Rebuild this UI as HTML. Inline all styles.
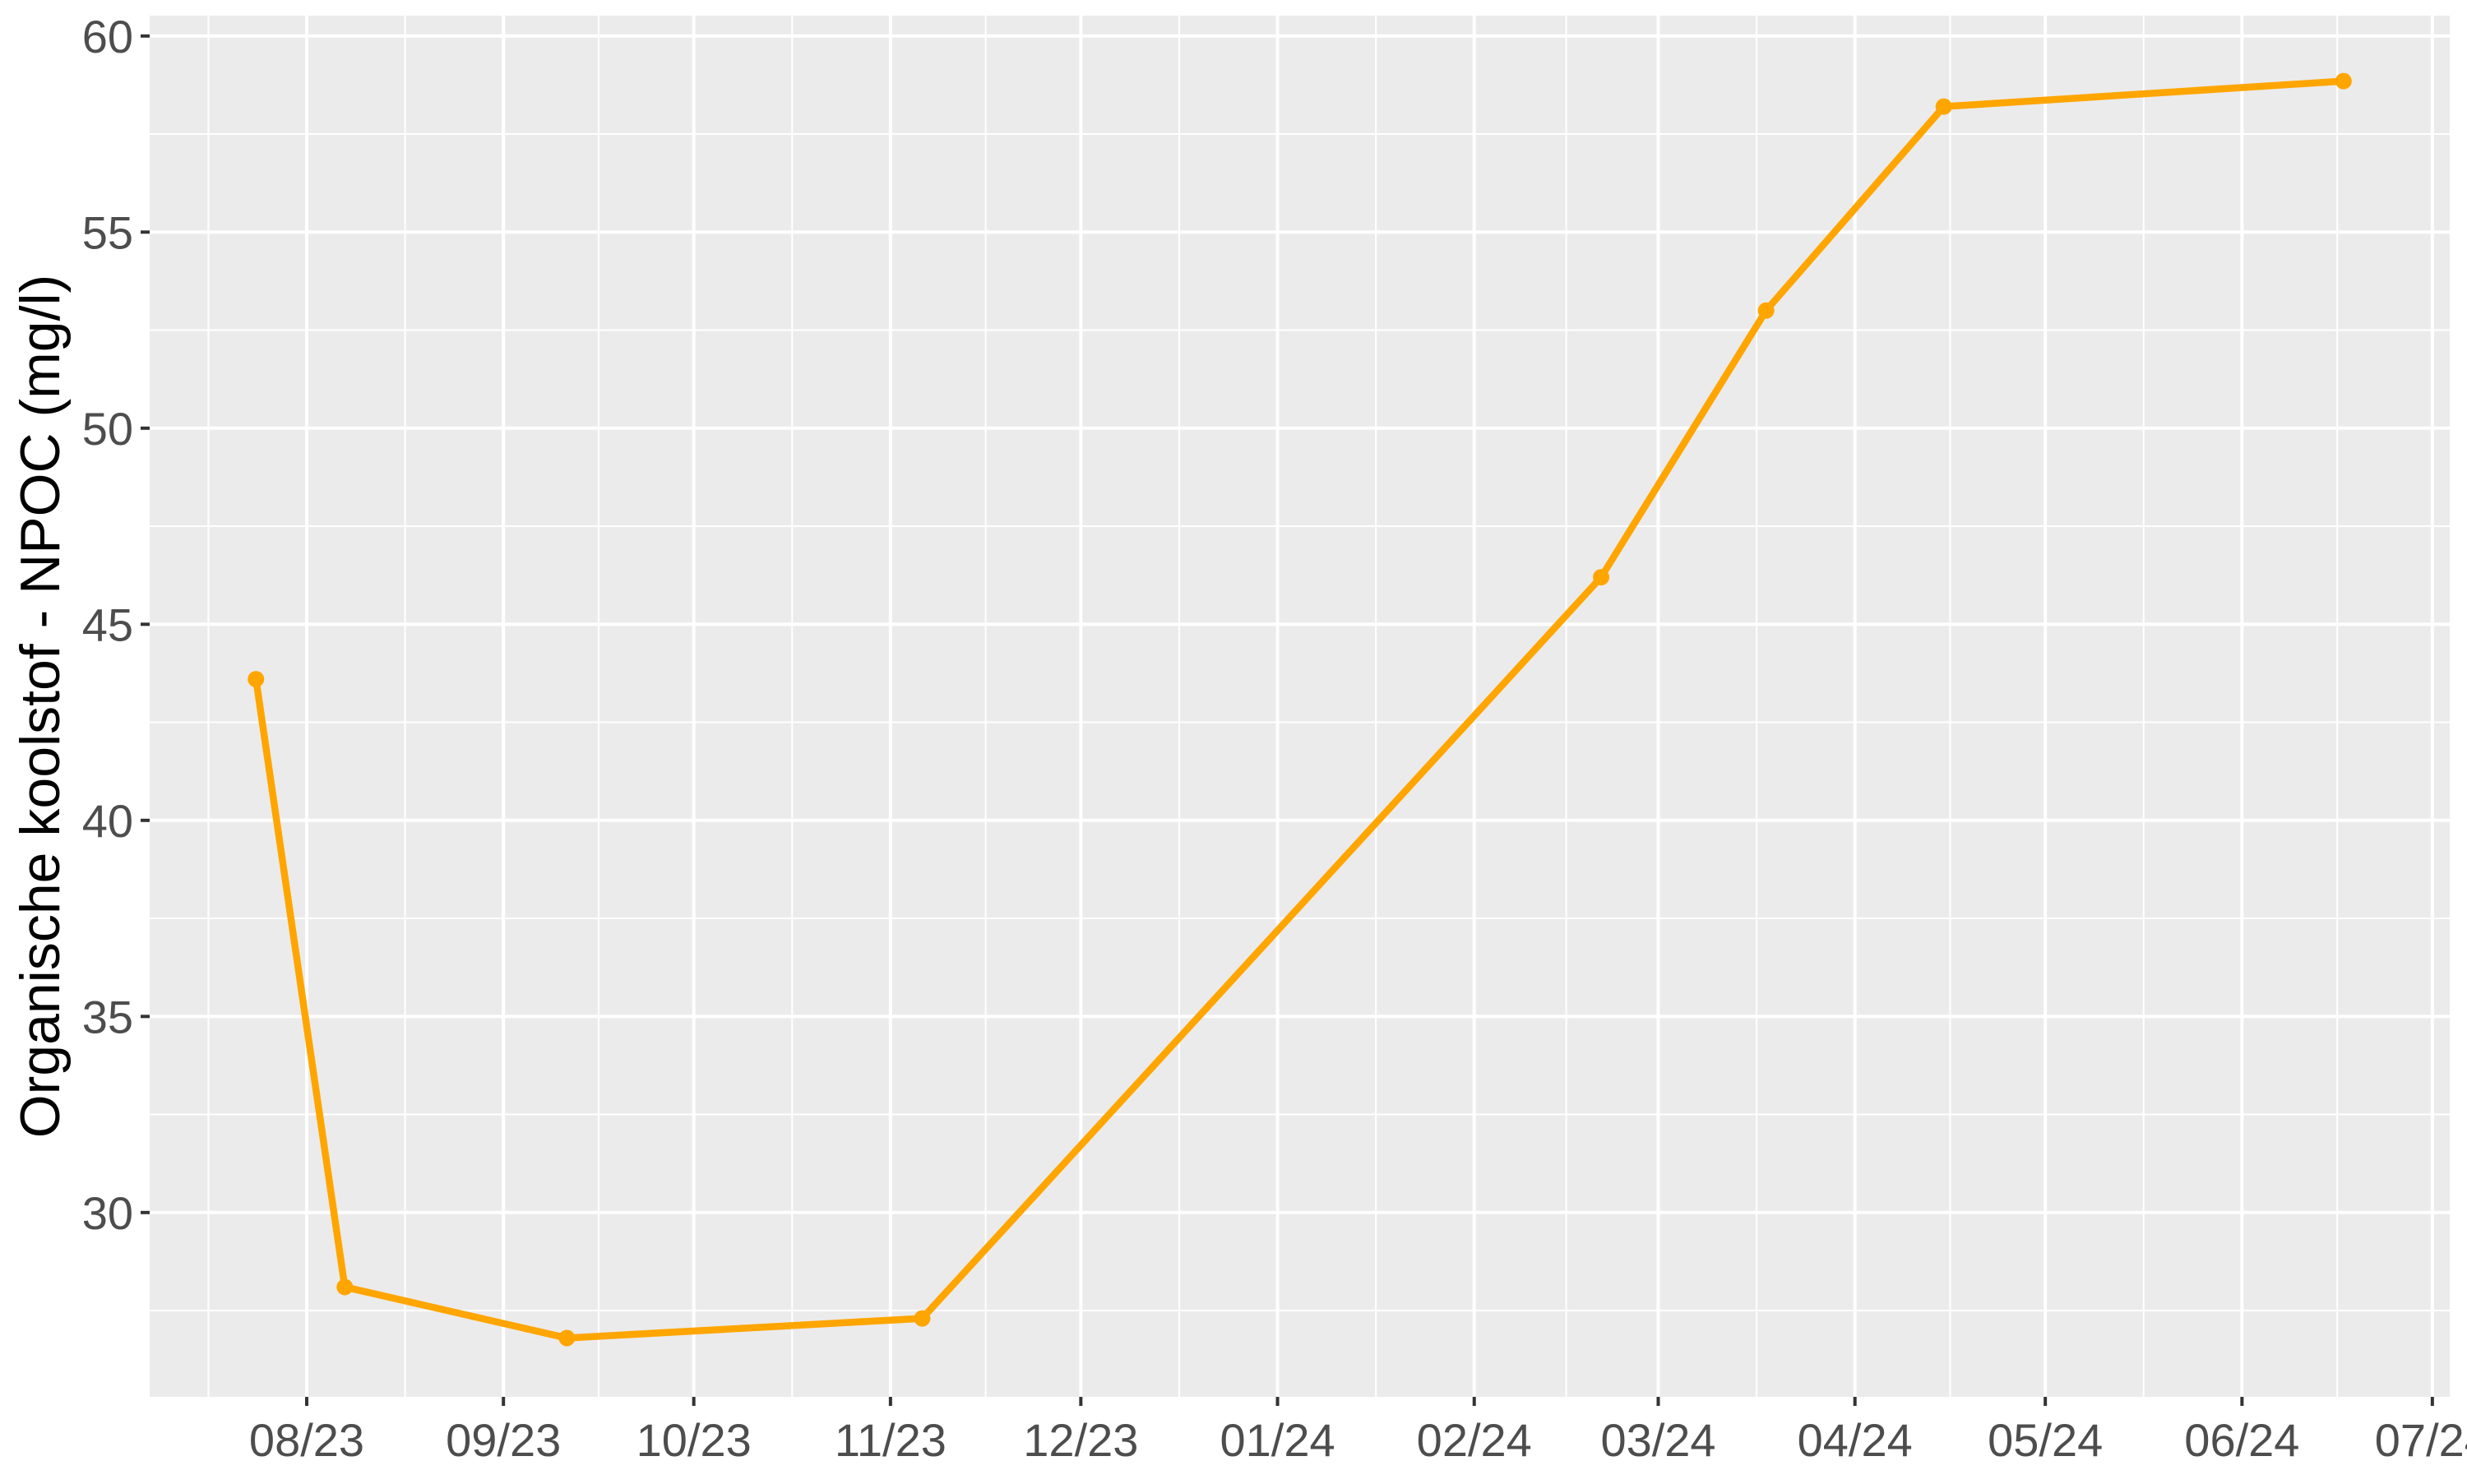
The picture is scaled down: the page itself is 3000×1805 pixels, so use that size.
<!DOCTYPE html>
<html><head><meta charset="utf-8"><style>
html,body{margin:0;padding:0;background:#fff;}
svg text{font-family:"Liberation Sans",Arial,sans-serif;}
</style></head><body>
<svg id="chart" width="3000" height="1800" viewBox="0 0 3000 1800" xmlns="http://www.w3.org/2000/svg">
<rect x="182" y="19" width="2797" height="1680" fill="#ebebeb"/>
<g id="grid"></g>
<g id="axes"></g>
<g id="series"></g>
<text x="0" y="0" transform="translate(72,859) rotate(-90)" text-anchor="middle" font-size="68" fill="#000">Organische koolstof - NPOC (mg/l)</text>
</svg>
<script>
const dates = ["2023-07-24","2023-08-07","2023-09-11","2023-11-06","2024-02-21","2024-03-18","2024-04-15","2024-06-17"];
const values = [43.6, 28.1, 26.8, 27.3, 46.2, 53.0, 58.2, 58.85];
const monthTicks = ["2023-08-01","2023-09-01","2023-10-01","2023-11-01","2023-12-01","2024-01-01","2024-02-01","2024-03-01","2024-04-01","2024-05-01","2024-06-01","2024-07-01"];
const monthLabels = ["08/23","09/23","10/23","11/23","12/23","01/24","02/24","03/24","04/24","05/24","06/24","07/24"];
const yTicks = [30,35,40,45,50,55,60];

const NS="http://www.w3.org/2000/svg";
const L=182,R=2979,T=19,B=1699;
const t0=Date.parse("2023-08-01"), pxPerDay=7.716, x0=373;
function xs(d){return x0+(Date.parse(d)-t0)/86400000*pxPerDay;}
const yMin=25.30, yMax=60.52;
function ys(v){return B-(v-yMin)/(yMax-yMin)*(B-T);}
function mk(tag,attrs,parent){const e=document.createElementNS(NS,tag);for(const k in attrs)e.setAttribute(k,attrs[k]);parent.appendChild(e);return e;}
const grid=document.getElementById('grid'),axes=document.getElementById('axes'),series=document.getElementById('series');

for(let i=0;i<=yTicks.length;i++){
  const v=yTicks[0]-2.5+5*i;
  if(v<yMin||v>yMax)continue;
  const ln=mk('line',{x1:L,x2:R,y1:ys(v),y2:ys(v),stroke:'#fff','stroke-width':2},grid);
  
  
}
const minorX=[];
minorX.push(xs(monthTicks[0])-(xs(monthTicks[1])-xs(monthTicks[0]))/2);
for(let i=0;i<monthTicks.length-1;i++)minorX.push((xs(monthTicks[i])+xs(monthTicks[i+1]))/2);
minorX.forEach(x=>{
  if(x<L||x>R)return;
  const ln=mk('line',{x1:x,x2:x,y1:T,y2:B,stroke:'#fff','stroke-width':2},grid);
  
  
});
yTicks.forEach(v=>{
  const y=ys(v);
  const ln=mk('line',{x1:L,x2:R,y1:y,y2:y,stroke:'#fff','stroke-width':4},grid);
  
  
  const tk=mk('line',{x1:L-11,x2:L,y1:y,y2:y,stroke:'#333','stroke-width':4},axes);
  
  
  const tx=mk('text',{x:L-20,y:y+20,'text-anchor':'end','font-size':56,fill:'#4d4d4d'},axes);
  tx.textContent=v;
  
  
});
monthTicks.forEach((d,i)=>{
  const x=xs(d);
  const ln=mk('line',{x1:x,x2:x,y1:T,y2:B,stroke:'#fff','stroke-width':4},grid);
  
  
  const tk=mk('line',{x1:x,x2:x,y1:B,y2:B+11,stroke:'#333','stroke-width':4},axes);
  
  
  const tx=mk('text',{x:x,y:B+72,'text-anchor':'middle','font-size':56,fill:'#4d4d4d'},axes);
  tx.textContent=monthLabels[i];
  
  
});
const pts=dates.map((d,i)=>xs(d)+','+ys(values[i])).join(' ');
const pl=mk('polyline',{points:pts,fill:'none',stroke:'#ffa500','stroke-width':8.5,'stroke-linejoin':'round'},series);


dates.forEach((d,i)=>{
  const c=mk('circle',{cx:xs(d),cy:ys(values[i]),r:10,fill:'#ffa500'},series);
  
  
});
</script>
</body></html>
